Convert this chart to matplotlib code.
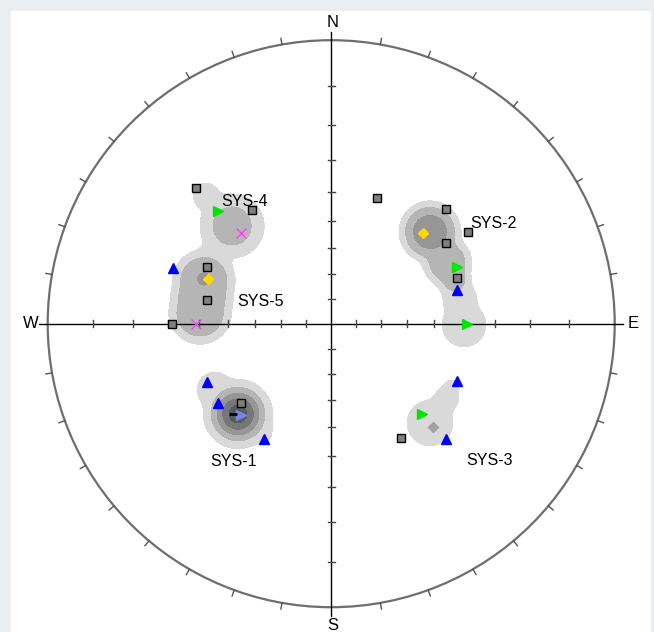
import numpy as np
import matplotlib
matplotlib.use("Agg")
import matplotlib.pyplot as plt
from matplotlib.patches import Circle, Rectangle

plt.rcParams["font.family"] = ["Liberation Sans", "DejaVu Sans"]

# Poles (trend, plunge in degrees), grouped by symbol
square_trend = [315.2, 325.2, 294.5, 280.8, 270.0, 20.2, 45.0, 56.2, 54.9, 70.1, 228.7, 148.8]
square_plunge = [21.8, 38.0, 38.6, 41.9, 31.4, 39.5, 30.6, 29.8, 37.5, 39.6, 43.9, 39.4]

green_trend = [314.9, 65.9, 90.0, 134.9]
green_plunge = [31.1, 38.0, 38.7, 41.2]

blue_trend = [289.3, 75.0, 244.8, 234.8, 210.2, 114.4, 135.1]
blue_plunge = [28.7, 40.6, 38.4, 38.0, 39.6, 37.9, 30.3]

yellow_trend = [289.9, 45.4]
yellow_plunge = [40.3, 41.1]

magenta_trend = [315.1, 270.0]
magenta_plunge = [41.5, 38.9]

mean_trend = [224.8]
mean_plunge = [41.2]

dash_trend = [227.5]
dash_plunge = [39.5]

grey_trend = [135.3]
grey_plunge = [35.8]

# Density concentrations for the contour field (SYS-1, SYS-3, SYS-2, SYS-4, SYS-5)
dens_trend = [225.9, 240.3, 213.3,
              135.1, 122.7, 117.3,
              47.1, 62.0, 70.0, 79.6, 90.6,
              314.6, 315.6, 302.0,
              289.4, 288.6, 281.7, 274.7]
dens_plunge = [40.8, 39.5, 40.9,
               37.4, 38.2, 38.8,
               39.1, 40.3, 40.5, 40.4, 39.8,
               37.7, 25.5, 37.7,
               39.1, 39.3, 40.1, 40.2]
dens_weight = [5.9, 1.5, 1.5,
               1.5, 1.5, 1.5,
               3.5, 2.5, 2.5, 1.5, 1.5,
               2.3, 1.5, 1.4,
               3.4, 2.5, 2.5, 2.5]
dens_width = [0.0640, 0.0705, 0.0494,
              0.0882, 0.0494, 0.0317,
              0.0860, 0.0790, 0.0530, 0.0670, 0.0847,
              0.1000, 0.0529, 0.0450,
              0.0423, 0.1000, 0.1000, 0.1000]
dens_shape = [2, 4, 4,
              4, 4, 4,
              4, 6, 6, 4, 4,
              4, 4, 4,
              4, 6, 6, 6]

set_names = ["SYS-1", "SYS-2", "SYS-3", "SYS-4", "SYS-5"]
label_xy = [(-0.343, -0.485), (0.574, 0.352), (0.560, -0.482), (-0.304, 0.430), (-0.251, 0.080)]


def project(trend, plunge):
    """Lower hemisphere equal-angle projection of a pole."""
    t = np.radians(np.asarray(trend, dtype=float))
    p = np.radians(np.asarray(plunge, dtype=float))
    r = np.tan(np.pi / 4 - p / 2)
    return r * np.sin(t), r * np.cos(t)


def smooth(field, sig):
    n = int(3 * sig)
    k = np.exp(-0.5 * (np.arange(-n, n + 1) / sig) ** 2)
    k /= k.sum()
    field = np.apply_along_axis(lambda m: np.convolve(m, k, mode="same"), 0, field)
    return np.apply_along_axis(lambda m: np.convolve(m, k, mode="same"), 1, field)


R = 283.5
cx, cy = 331.2, 323.7
W, H = 654, 632

fig = plt.figure(figsize=(W / 100, H / 100), dpi=100, facecolor="#eaeef0")
fig.patches.append(Rectangle((11 / W, 0), 640 / W, (H - 11) / H, transform=fig.transFigure,
                             facecolor="white", edgecolor="none", zorder=-1))
ax = fig.add_axes([0, 0, 1, 1])
ax.set_xlim(-cx / R, (W - cx) / R)
ax.set_ylim((cy - H) / R, cy / R)
ax.set_aspect("equal")
ax.axis("off")
ax.patch.set_alpha(0)

# Contoured pole density: envelope of the concentrations, then smoothed
ng = 700
gx, gy = np.meshgrid(np.linspace(-1, 1, ng), np.linspace(-1, 1, ng))
dens = np.zeros_like(gx)
px, py = project(dens_trend, dens_plunge)
for x0, y0, w, s, p in zip(px, py, dens_weight, dens_width, dens_shape):
    d = np.hypot(gx - x0, gy - y0) / s
    dens = np.maximum(dens, w * np.exp(-0.5 * d ** p))
cell = 2 / (ng - 1)
dens = smooth(dens, (4.5 / R) / cell)
levels = [1, 2, 3, 4, 5, 6, 100]
shades = ["#d9d9d9", "#b5b5b5", "#969696", "#777777", "#5a5a5a", "#404040"]
cs = ax.contourf(gx, gy, dens, levels=levels, colors=shades, zorder=1)
clip = Circle((0, 0), 1, transform=ax.transData)
cs.set_clip_path(clip)

# Primitive circle, axes and ticks
ax.add_patch(Circle((0, 0), 1, fill=False, edgecolor="#6e6e6e", lw=1.6, zorder=3))
ax.plot([-1.03, 1.03], [0, 0], color="black", lw=1, zorder=3)
ax.plot([0, 0], [-1.03, 1.03], color="black", lw=1, zorder=3)
for az in range(0, 360, 10):
    if az % 90 == 0:
        continue
    a = np.radians(az)
    ax.plot([np.sin(a), 1.022 * np.sin(a)], [np.cos(a), 1.022 * np.cos(a)],
            color="#555555", lw=1, zorder=3)
tk = 0.012
for k in range(1, 9):
    r = np.tan(np.radians(5 * k))
    for sgn in (-1, 1):
        ax.plot([sgn * r, sgn * r], [-tk, tk], color="#444444", lw=1, zorder=3)
        ax.plot([-tk, tk], [sgn * r, sgn * r], color="#444444", lw=1, zorder=3)

ax.text(0.004, 1.061, "N", ha="center", va="center", fontsize=12)
ax.text(0.004, -1.063, "S", ha="center", va="center", fontsize=12)
ax.text(-1.059, 0.0, "W", ha="center", va="center", fontsize=12)
ax.text(1.064, 0.0, "E", ha="center", va="center", fontsize=12)

# Pole symbols
x, y = project(square_trend, square_plunge)
ax.plot(x, y, "s", ms=6, mfc="#7f7f7f", mec="black", mew=1, ls="none", zorder=5)
x, y = project(green_trend, green_plunge)
ax.plot(x, y, ">", ms=7, mfc="#00e600", mec="#00e600", ls="none", zorder=5)
x, y = project(blue_trend, blue_plunge)
ax.plot(x, y, "^", ms=7, mfc="#0000ff", mec="#0000ff", ls="none", zorder=5)
x, y = project(yellow_trend, yellow_plunge)
ax.plot(x, y, "D", ms=5, mfc="#ffd700", mec="#ffd700", ls="none", zorder=5)
x, y = project(magenta_trend, magenta_plunge)
ax.plot(x, y, "x", ms=7, mec="#ff40ff", mew=1, ls="none", zorder=5)
x, y = project(mean_trend, mean_plunge)
ax.plot(x, y, ">", ms=7, mfc="#8080e0", mec="#8080e0", ls="none", zorder=5)
x, y = project(dash_trend, dash_plunge)
ax.plot(x, y, "_", ms=6, mec="black", mew=2, ls="none", zorder=5)
x, y = project(grey_trend, grey_plunge)
ax.plot(x, y, "D", ms=5.5, mfc="#a0a0a0", mec="#a0a0a0", ls="none", zorder=5)

for name, (lx, ly) in zip(set_names, label_xy):
    ax.text(lx, ly, name, ha="center", va="center", fontsize=11.5, zorder=6)

fig.savefig("out.png", dpi=100, facecolor=fig.get_facecolor())
